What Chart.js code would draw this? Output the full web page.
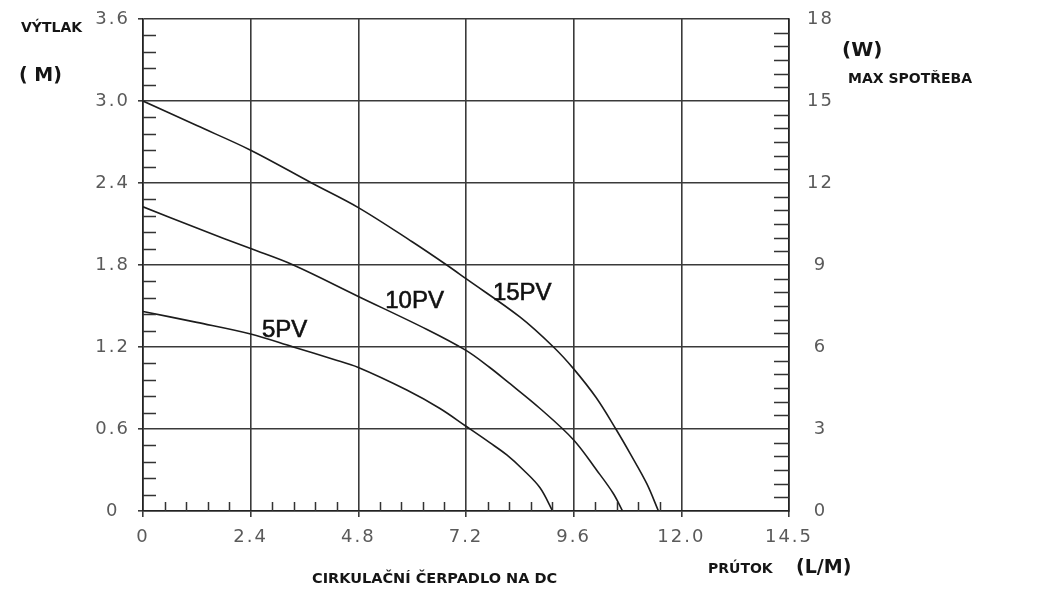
<!DOCTYPE html>
<html><head><meta charset="utf-8">
<script src="https://cdn.jsdelivr.net/npm/chart.js@4"></script>
<style>html,body{margin:0;padding:0;background:#fff}#wrap{width:1050px;height:602px;position:relative}</style>
</head><body><div id="wrap"><canvas id="c" width="1050" height="602"></canvas></div>
<script>
// ---- data ----
const seriesNames = ["15PV", "10PV", "5PV"];
const flow15 = [0, 1.2, 2.4, 3.76, 4.8, 6.0, 6.77, 7.2, 8.4, 9.15, 9.6, 10.1, 10.54, 10.86, 11.23, 11.49];
const head15 = [3.0, 2.82, 2.64, 2.4, 2.22, 1.97, 1.8, 1.70, 1.42, 1.2, 1.04, 0.83, 0.6, 0.42, 0.2, 0];
const flow10 = [0, 1.2, 2.4, 3.35, 4.8, 6.32, 7.2, 7.73, 8.11, 8.85, 9.6, 10.11, 10.48, 10.69];
const head10 = [2.226, 2.07, 1.92, 1.80, 1.57, 1.33, 1.175, 1.05, 0.95, 0.75, 0.52, 0.30, 0.13, 0];
const flow5 = [0, 1.2, 2.4, 3.35, 4.24, 4.8, 5.88, 6.62, 7.2, 7.73, 8.11, 8.48, 8.85, 9.13];
const head5 = [1.46, 1.38, 1.295, 1.20, 1.11, 1.05, 0.885, 0.75, 0.62, 0.50, 0.41, 0.30, 0.17, 0];

const xTickValues = [0, 2.4, 4.8, 7.2, 9.6, 12.0, 14.4];
const xTickLabels = ["0", "2.4", "4.8", "7.2", "9.6", "12.0", "14.5"];
const yTickValues = [0, 0.6, 1.2, 1.8, 2.4, 3.0, 3.6];
const yTickLabels = ["0", "0.6", "1.2", "1.8", "2.4", "3.0", "3.6"];
const wTickValues = [0, 3, 6, 9, 12, 15, 18];
const wTickLabels = ["0", "3", "6", "9", "12", "15", "18"];

// curve label anchors (data coordinates: flow, head)
const curveLabelFlow = [7.80, 5.40, 2.65];
const curveLabelHead = [1.595, 1.536, 1.324];

const GRID = '#3a3a3a';
const TICKFONT = {family: 'DejaVu Sans', size: 18};
const TICKCOLOR = '#5a5a5a';

const spacing = {
  id: 'spacing',
  beforeLayout(chart) { chart.ctx.letterSpacing = '2px'; },
  beforeDraw(chart) { chart.ctx.letterSpacing = '2px'; }
};

const minorTicks = {
  id: 'minorTicks',
  afterDraw(chart) {
    const {ctx, chartArea: a} = chart;
    const x = chart.scales.x, y = chart.scales.y, w = chart.scales.y2;
    ctx.save();
    ctx.strokeStyle = '#333';
    ctx.lineWidth = 1.5;
    ctx.beginPath();
    for (let i = 1; i < 25; i++) {
      if (i % 5 === 0) continue;
      const px = Math.round(x.getPixelForValue(i * 0.48)) + 0.5;
      ctx.moveTo(px, a.bottom); ctx.lineTo(px, a.bottom - 9);
    }
    for (let i = 1; i < 30; i++) {
      if (i % 5 === 0) continue;
      const py = Math.round(y.getPixelForValue(i * 0.12)) + 0.5;
      ctx.moveTo(a.left, py); ctx.lineTo(a.left + 13, py);
    }
    for (let i = 1; i < 36; i++) {
      if (i % 6 === 0) continue;
      const py = Math.round(w.getPixelForValue(i * 0.5)) + 0.5;
      ctx.moveTo(a.right, py); ctx.lineTo(a.right - 15, py);
    }
    ctx.stroke();
    ctx.restore();
  }
};

const texts = {
  id: 'texts',
  afterDraw(chart) {
    const {ctx} = chart;
    const x = chart.scales.x, y = chart.scales.y;
    ctx.save();
    ctx.letterSpacing = '0px';
    ctx.fillStyle = '#151515';
    ctx.textBaseline = 'middle';
    ctx.textAlign = 'left';
    const t = (s, px, py, font) => { ctx.font = font; ctx.fillText(s, px, py); };
    t('VÝTLAK', 21, 28, 'bold 14px "DejaVu Sans"');
    t('( M)', 19, 76, 'bold 19px "DejaVu Sans"');
    t('(W)', 842, 51, 'bold 20px "DejaVu Sans"');
    t('MAX SPOTŘEBA', 848, 79, 'bold 14px "DejaVu Sans"');
    t('PRÚTOK', 708, 569, 'bold 14px "DejaVu Sans"');
    t('(L/M)', 796, 568, 'bold 19px "DejaVu Sans"');
    t('CIRKULAČNÍ ČERPADLO NA DC', 312, 579, 'bold 14.5px "DejaVu Sans"');
    ctx.fillStyle = '#111';
    ctx.strokeStyle = '#111';
    ctx.lineWidth = 0.6;
    ctx.font = '24px "Liberation Sans"';
    for (let i = 0; i < seriesNames.length; i++) {
      const px = x.getPixelForValue(curveLabelFlow[i]), py = y.getPixelForValue(curveLabelHead[i]);
      ctx.fillText(seriesNames[i], px, py);
      ctx.strokeText(seriesNames[i], px, py);
    }
    ctx.restore();
  }
};

const mk = (fx, hy) => fx.map((v, i) => ({x: v, y: hy[i]}));
const flows = [flow15, flow10, flow5];
const heads = [head15, head10, head5];

new Chart(document.getElementById('c'), {
  type: 'line',
  data: {
    datasets: seriesNames.map((n, i) => ({
      label: n,
      data: mk(flows[i], heads[i]),
      borderColor: '#1c1c1c',
      borderWidth: 1.6,
      pointRadius: 0,
      fill: false,
      tension: 0.35,
      yAxisID: 'y'
    }))
  },
  options: {
    responsive: false,
    animation: false,
    devicePixelRatio: 1,
    layout: {padding: {top: 19, left: 0, right: 0, bottom: 0}},
    plugins: {legend: {display: false}, tooltip: {enabled: false}},
    scales: {
      x: {
        type: 'linear', min: 0, max: 14.4,
        afterBuildTicks: s => { s.ticks = xTickValues.map(v => ({value: v})); },
        afterFit: s => { s.height = 91; },
        ticks: {callback: (v, i) => xTickLabels[i], autoSkip: false, maxRotation: 0, font: TICKFONT, color: TICKCOLOR, padding: 10},
        grid: {color: GRID, lineWidth: 1.6, tickLength: 6},
        border: {color: '#222', width: 1.6}
      },
      y: {
        type: 'linear', position: 'left', min: 0, max: 3.6,
        afterBuildTicks: s => { s.ticks = yTickValues.map(v => ({value: v})); },
        afterFit: s => { s.width = 143; },
        ticks: {callback: (v, i) => yTickLabels[i], autoSkip: false, font: TICKFONT, color: TICKCOLOR, padding: 8, crossAlign: 'center'},
        grid: {color: GRID, lineWidth: 1.6, tickLength: 5},
        border: {color: '#222', width: 1.6}
      },
      y2: {
        type: 'linear', position: 'right', min: 0, max: 18,
        afterBuildTicks: s => { s.ticks = wTickValues.map(v => ({value: v})); },
        afterFit: s => { s.width = 261; },
        ticks: {callback: (v, i) => wTickLabels[i], autoSkip: false, font: TICKFONT, color: TICKCOLOR, padding: 0, crossAlign: 'center'},
        grid: {display: false, drawOnChartArea: false, tickLength: 18},
        border: {color: '#222', width: 1.6}
      }
    }
  },
  plugins: [spacing, minorTicks, texts]
});
</script>
</body></html>
